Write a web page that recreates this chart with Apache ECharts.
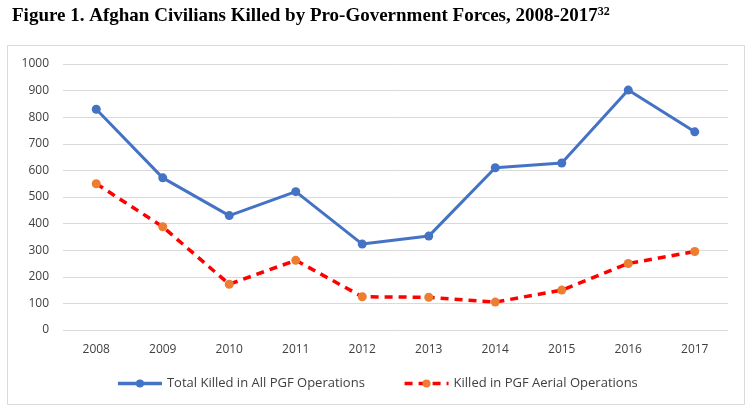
<!DOCTYPE html>
<html><head><meta charset="utf-8">
<script src="https://cdn.jsdelivr.net/npm/echarts@6/dist/echarts.min.js"></script>
<style>html,body{margin:0;padding:0;background:#fff}#c{width:754px;height:415px}</style>
</head><body><div id="c"></div>
<script>
const years = ['2008','2009','2010','2011','2012','2013','2014','2015','2016','2017'];
const totalKilled = [830, 572, 430, 520, 323, 353, 610, 628, 902, 745];
const aerialKilled = [550, 388, 172, 262, 125, 123, 105, 150, 250, 295];
const seriesNames = ['Total Killed in All PGF Operations', 'Killed in PGF Aerial Operations'];

const chart = echarts.init(document.getElementById('c'));
chart.setOption({
  animation: false,
  title: {
    text: '{t|Figure 1. Afghan Civilians Killed by Pro-Government Forces, 2008-2017}{s|32}',
    left: 7, top: 1,
    textStyle: {
      rich: {
        t: {fontFamily: 'Liberation Serif', fontWeight: 'bold', fontSize: 19, color: '#000'},
        s: {fontFamily: 'Liberation Serif', fontSize: 12, color: '#000', verticalAlign: 'top', padding: [0,0,8,0]}
      }
    }
  },
  graphic: [{
    type: 'rect', shape: {x: 7.5, y: 45.5, width: 737, height: 359},
    style: {fill: 'none', stroke: '#d9d9d9', lineWidth: 1}, silent: true
  }],
  grid: {left: 63, right: 26, top: 64, bottom: 85},
  legend: {
    bottom: 20, left: 'center', itemGap: 38, itemWidth: 44, itemHeight: 10,
    textStyle: {fontFamily: 'Open Sans', fontSize: 13, color: '#404040'},
    data: seriesNames
  },
  xAxis: {
    type: 'category', data: years, boundaryGap: true,
    axisLine: {show: false}, axisTick: {show: false},
    axisLabel: {fontFamily: 'Open Sans', fontSize: 12, color: '#404040', margin: 14}
  },
  yAxis: {
    type: 'value', min: 0, max: 1000, interval: 100,
    axisLine: {show: false}, axisTick: {show: false},
    splitLine: {lineStyle: {color: '#d9d9d9', width: 1}},
    axisLabel: {fontFamily: 'Open Sans', fontSize: 12, color: '#404040', margin: 14, formatter: v => String(v)}
  },
  series: [{
    name: seriesNames[0], type: 'line', data: totalKilled,
    symbol: 'circle', symbolSize: 9,
    lineStyle: {color: '#4472C4', width: 3},
    itemStyle: {color: '#4472C4'},
    legendLineStyle: undefined
  }, {
    name: seriesNames[1], type: 'line', data: aerialKilled,
    symbol: 'circle', symbolSize: 9,
    lineStyle: {color: '#FF0000', width: 3.5, type: [8, 6]},
    itemStyle: {color: '#ED7D31'}
  }]
});
chart.setOption({legend: {lineStyle: {width: 3.5}}});
</script></body></html>
